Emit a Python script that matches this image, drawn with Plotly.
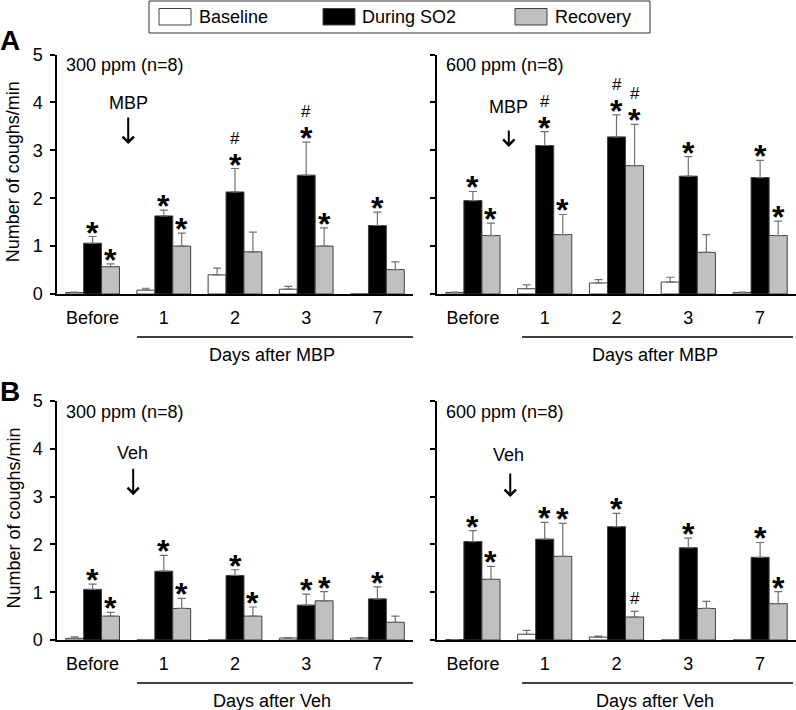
import plotly.graph_objects as go

W, H = 796, 710

categories = ["Before", "1", "2", "3", "7"]
series_names = ["Baseline", "During SO2", "Recovery"]

# Panel A, 300 ppm, MBP
a300_base = [0.03, 0.08, 0.40, 0.10, 0.0]
a300_base_sem = [0.01, 0.04, 0.14, 0.06, 0.0]
a300_so2 = [1.06, 1.63, 2.13, 2.48, 1.43]
a300_so2_sem = [0.14, 0.12, 0.49, 0.69, 0.28]
a300_rec = [0.57, 1.00, 0.88, 1.00, 0.51]
a300_rec_sem = [0.06, 0.27, 0.41, 0.38, 0.16]
a300_so2_sig = ["*", "*", "#*", "#*", "*"]
a300_rec_sig = ["*", "*", "", "*", ""]

# Panel A, 600 ppm, MBP
a600_base = [0.03, 0.11, 0.23, 0.25, 0.03]
a600_base_sem = [0.01, 0.08, 0.07, 0.10, 0.01]
a600_so2 = [1.95, 3.10, 3.28, 2.46, 2.43]
a600_so2_sem = [0.19, 0.29, 0.46, 0.41, 0.36]
a600_rec = [1.22, 1.24, 2.68, 0.87, 1.22]
a600_rec_sem = [0.26, 0.42, 0.86, 0.37, 0.30]
a600_so2_sig = ["*", "#*", "#*", "*", "*"]
a600_rec_sig = ["*", "*", "#*", "", "*"]

# Panel B, 300 ppm, Veh
b300_base = [0.035, 0.0, 0.0, 0.04, 0.04]
b300_base_sem = [0.03, 0.0, 0.0, 0.01, 0.01]
b300_so2 = [1.06, 1.44, 1.35, 0.73, 0.86]
b300_so2_sem = [0.11, 0.33, 0.12, 0.23, 0.25]
b300_rec = [0.50, 0.66, 0.50, 0.82, 0.37]
b300_rec_sem = [0.08, 0.21, 0.19, 0.19, 0.13]
b300_so2_sig = ["*", "*", "*", "*", "*"]
b300_rec_sig = ["*", "*", "*", "*", ""]

# Panel B, 600 ppm, Veh
b600_base = [0.01, 0.12, 0.06, 0.0, 0.0]
b600_base_sem = [0.0, 0.08, 0.02, 0.0, 0.0]
b600_so2 = [2.06, 2.11, 2.37, 1.93, 1.73]
b600_so2_sem = [0.23, 0.35, 0.28, 0.20, 0.31]
b600_rec = [1.27, 1.75, 0.48, 0.66, 0.76]
b600_rec_sem = [0.27, 0.69, 0.12, 0.15, 0.25]
b600_so2_sig = ["*", "*", "*", "*", "*"]
b600_rec_sig = ["*", "*", "#", "", "*"]

panel_labels = ["300 ppm (n=8)", "600 ppm (n=8)", "300 ppm (n=8)", "600 ppm (n=8)"]
treatments = ["MBP", "MBP", "Veh", "Veh"]
y_title = "Number of coughs/min"

FONT = "Liberation Sans, Arial, sans-serif"
COLORS = ["#ffffff", "#000000", "#c0c0c0"]
BARGAP = 0.245


def px_x(p):
    return p / W


def px_y(p):
    return 1 - p / H


panels = [
    dict(ax="", base=(a300_base, a300_base_sem), so2=(a300_so2, a300_so2_sem), rec=(a300_rec, a300_rec_sem),
         sig=(a300_so2_sig, a300_rec_sig), xd=(57, 413), yd=(54.5, 294), arrow=(0.5, 3.13, 28), txt=(0.5, 3.98)),
    dict(ax="2", base=(a600_base, a600_base_sem), so2=(a600_so2, a600_so2_sem), rec=(a600_rec, a600_rec_sem),
         sig=(a600_so2_sig, a600_rec_sig), xd=(437, 796), yd=(54.5, 294), arrow=(0.5, 3.07, 18), txt=(0.49, 3.9)),
    dict(ax="3", base=(b300_base, b300_base_sem), so2=(b300_so2, b300_so2_sem), rec=(b300_rec, b300_rec_sem),
         sig=(b300_so2_sig, b300_rec_sig), xd=(57, 413), yd=(401, 640), arrow=(0.57, 3.03, 28), txt=(0.56, 3.91)),
    dict(ax="4", base=(b600_base, b600_base_sem), so2=(b600_so2, b600_so2_sem), rec=(b600_rec, b600_rec_sem),
         sig=(b600_so2_sig, b600_rec_sig), xd=(437, 796), yd=(401, 640), arrow=(0.52, 2.99, 25), txt=(0.5, 3.87)),
]

fig = go.Figure()
annotations = []
shapes = []

for i, p in enumerate(panels):
    xa = "x" + p["ax"]
    ya = "y" + p["ax"]
    for k, key in enumerate(["base", "so2", "rec"]):
        vals, sem = p[key]
        fig.add_trace(go.Bar(
            x=categories, y=vals, name=series_names[k], xaxis=xa, yaxis=ya,
            offsetgroup=str(k), showlegend=False,
            marker=dict(color=COLORS[k], line=dict(color="#404040", width=1)),
            error_y=dict(type="data", array=sem, arrayminus=[0] * len(sem), symmetric=False,
                         color="#707070", thickness=1.2, width=4),
        ))
    # significance marks
    bw = (1 - BARGAP) / 3
    for k, key in [(1, "so2"), (2, "rec")]:
        vals, sem = p[key]
        sigs = p["sig"][k - 1]
        for j, s in enumerate(sigs):
            if not s:
                continue
            top = vals[j] + sem[j]
            xpos = j + (k - 1) * bw
            if "*" in s:
                annotations.append(dict(x=xpos, y=top, xref=xa, yref=ya, text="<b>*</b>", showarrow=False,
                                        yanchor="middle", yshift=4, height=26, valign="middle",
                                        font=dict(size=32, family=FONT, color="black")))
                if "#" in s:
                    annotations.append(dict(x=xpos, y=top, xref=xa, yref=ya, text="#", showarrow=False,
                                            yanchor="middle", yshift=31, height=14, valign="middle",
                                            font=dict(size=17, family=FONT, color="black")))
            else:
                annotations.append(dict(x=xpos, y=top, xref=xa, yref=ya, text="#", showarrow=False,
                                        yanchor="middle", yshift=13, font=dict(size=17, family=FONT, color="black")))
    # panel text
    annotations.append(dict(x=0.02, y=4.78, xref=xa + " domain", yref=ya, text=panel_labels[i], showarrow=False,
                            xanchor="left", yanchor="middle", font=dict(size=18, family=FONT, color="black")))
    # treatment arrow
    axp, ayp, alen = p["arrow"]
    annotations.append(dict(x=axp, y=ayp, xref=xa, yref=ya, text="", showarrow=True, ax=0, ay=-alen,
                            arrowhead=4, arrowsize=1.1, arrowwidth=2, arrowcolor="black"))
    tx, ty = p["txt"]
    annotations.append(dict(x=tx, y=ty, xref=xa, yref=ya, text=treatments[i], showarrow=False,
                            xanchor="center", yanchor="middle", font=dict(size=18, family=FONT, color="black")))
    # "Days after" line + label
    x0, x1 = p["xd"]
    ytop, ybot = p["yd"]
    line_y = ybot + 43
    lx0 = 137 if x0 < 400 else 522
    lx1 = 413 if x0 < 400 else 793
    shapes.append(dict(type="line", xref="paper", yref="paper", x0=px_x(lx0), x1=px_x(lx1),
                       y0=px_y(line_y), y1=px_y(line_y), line=dict(color="black", width=1.5)))
    cx = 272 if x0 < 400 else 655
    annotations.append(dict(x=px_x(cx), y=px_y(line_y + 18), xref="paper", yref="paper",
                            text="Days after " + treatments[i], showarrow=False, xanchor="center", yanchor="middle",
                            font=dict(size=18, family=FONT, color="black")))
    # y-axis title for left panels
    if x0 < 400:
        annotations.append(dict(x=px_x(13), y=px_y((ytop + ybot) / 2 - 2), xref="paper", yref="paper",
                                text=y_title, textangle=-90, showarrow=False, xanchor="center", yanchor="middle",
                                font=dict(size=18, family=FONT, color="black")))

# Panel letters
annotations.append(dict(x=px_x(10), y=px_y(40), xref="paper", yref="paper", text="<b>A</b>", showarrow=False,
                        xanchor="center", yanchor="middle", font=dict(size=28, family=FONT, color="black")))
annotations.append(dict(x=px_x(10), y=px_y(391), xref="paper", yref="paper", text="<b>B</b>", showarrow=False,
                        xanchor="center", yanchor="middle", font=dict(size=28, family=FONT, color="black")))

# Legend (drawn box)
shapes.append(dict(type="rect", xref="paper", yref="paper", x0=px_x(149), x1=px_x(650), y0=px_y(33), y1=px_y(1),
                   line=dict(color="#303030", width=1), fillcolor="white"))
leg = [(159, 197, "#ffffff"), (323, 360, "#000000"), (515, 553, "#c0c0c0")]
for (sx, tx, col), name in zip(leg, series_names):
    shapes.append(dict(type="rect", xref="paper", yref="paper", x0=px_x(sx), x1=px_x(sx + 32),
                       y0=px_y(25), y1=px_y(8.5), line=dict(color="#404040", width=1), fillcolor=col))
    annotations.append(dict(x=px_x(tx), y=px_y(17), xref="paper", yref="paper", text=name, showarrow=False,
                            xanchor="left", yanchor="middle", font=dict(size=18, family=FONT, color="black")))

layout = dict(
    width=W, height=H, margin=dict(l=0, r=0, t=0, b=0, pad=0, autoexpand=False),
    paper_bgcolor="white", plot_bgcolor="white",
    barmode="group", bargap=BARGAP, bargroupgap=0,
    font=dict(family=FONT, size=18, color="black"),
    annotations=annotations, shapes=shapes, showlegend=False,
)

for i, p in enumerate(panels):
    sfx = p["ax"]
    x0, x1 = p["xd"]
    y0, y1 = p["yd"]
    layout["xaxis" + sfx] = dict(
        domain=[px_x(x0), px_x(x1)], anchor="y" + sfx, type="category", range=[-0.5, 4.5],
        showline=True, linecolor="black", linewidth=2, ticks="", showgrid=False, zeroline=False,
        automargin=False, tickfont=dict(size=18, family=FONT, color="black"), ticklabelstandoff=6,
    )
    yaxis = dict(
        domain=[px_y(y1), px_y(y0)], anchor="x" + sfx, range=[0, 5], tickvals=[0, 1, 2, 3, 4, 5],
        showline=True, linecolor="black", linewidth=1.5, ticks="outside", ticklen=5, tickwidth=1.5,
        tickcolor="black", showgrid=False, zeroline=False, automargin=False,
        tickfont=dict(size=18, family=FONT, color="black"), ticklabelstandoff=4,
    )
    if sfx in ("2", "4"):
        yaxis["showticklabels"] = False
    layout["yaxis" + sfx] = yaxis

fig.update_layout(**layout)
fig.write_html("out.html", config={"displayModeBar": False},
               post_script="document.body.style.margin='0';")
